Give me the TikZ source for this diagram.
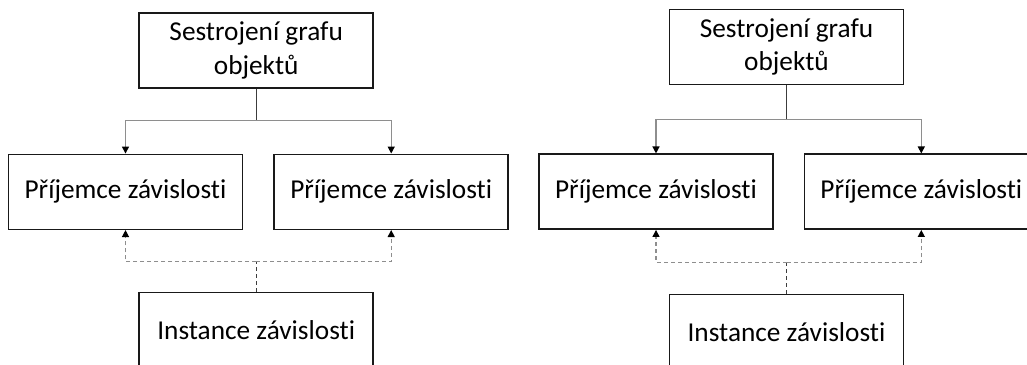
\documentclass[tikz,border=0pt]{standalone}
\usepackage{fontspec}
\setmainfont{Carlito}[Ligatures={NoCommon,NoRare,NoContextual}]
\usetikzlibrary{arrows.meta}
\definecolor{linkdark}{HTML}{3C3C3C}
\definecolor{linklight}{HTML}{8E8E8E}
\tikzset{
  box/.style={draw=black!90, line width=1.5pt, minimum width=234pt, minimum height=75pt,
    inner sep=0pt, align=center, font=\fontsize{27.3}{33.3}\selectfont},
  tipstyle/.style={-{Triangle[length=7pt,width=7pt,color=black]}},
  solidtrunk/.style={draw=linkdark, line width=1.3pt},
  solidbranch/.style={draw=linklight, line width=1.3pt, tipstyle},
  dashtrunk/.style={draw=linkdark, line width=1.3pt, dash pattern=on 4pt off 3pt},
  dashbranch/.style={draw=linklight, line width=1.3pt, dash pattern=on 4pt off 3pt, tipstyle},
}
\begin{document}
\begin{tikzpicture}[x=1pt,y=-1pt]
\useasboundingbox (0,0) rectangle (1027,364);
\clip (0,0) rectangle (1027,364);
\fill[white] (0,0) rectangle (1027,364);

% first diagram
\node[box] (t1) at (256.2,50.5) {Sestrojení grafu\\objektů};
\node[box] (a1) at (125.5,191.8) {Příjemce závislosti};
\node[box] (b1) at (391.2,191.8) {Příjemce závislosti};
\node[box] (i1) at (256.2,329.8) {Instance závislosti};
\coordinate (j1) at (256.2,120.7);
\coordinate (k1) at (256.2,261.7);
\draw[solidtrunk] (t1.south) -- (j1);
\draw[solidbranch] (j1) -| (a1.north);
\draw[solidbranch] (j1) -| (b1.north);
\draw[dashtrunk] (i1.north) -- (k1);
\draw[dashbranch] (k1) -| (a1.south);
\draw[dashbranch] (k1) -| (b1.south);

% second diagram
\node[box] (t2) at (786.5,47.2) {Sestrojení grafu\\objektů};
\node[box] (a2) at (656.0,191.7) {Příjemce závislosti};
\node[box] (b2) at (921.3,191.7) {Příjemce závislosti};
\node[box] (i2) at (786.5,331.8) {Instance závislosti};
\coordinate (j2) at (786.5,119.3);
\coordinate (k2) at (786.5,262.3);
\draw[solidtrunk] (t2.south) -- (j2);
\draw[solidbranch] (j2) -| (a2.north);
\draw[solidbranch] (j2) -| (b2.north);
\draw[dashtrunk] (i2.north) -- (k2);
\draw[dashbranch] (k2) -| (a2.south);
\draw[dashbranch] (k2) -| (b2.south);
\end{tikzpicture}
\end{document}
